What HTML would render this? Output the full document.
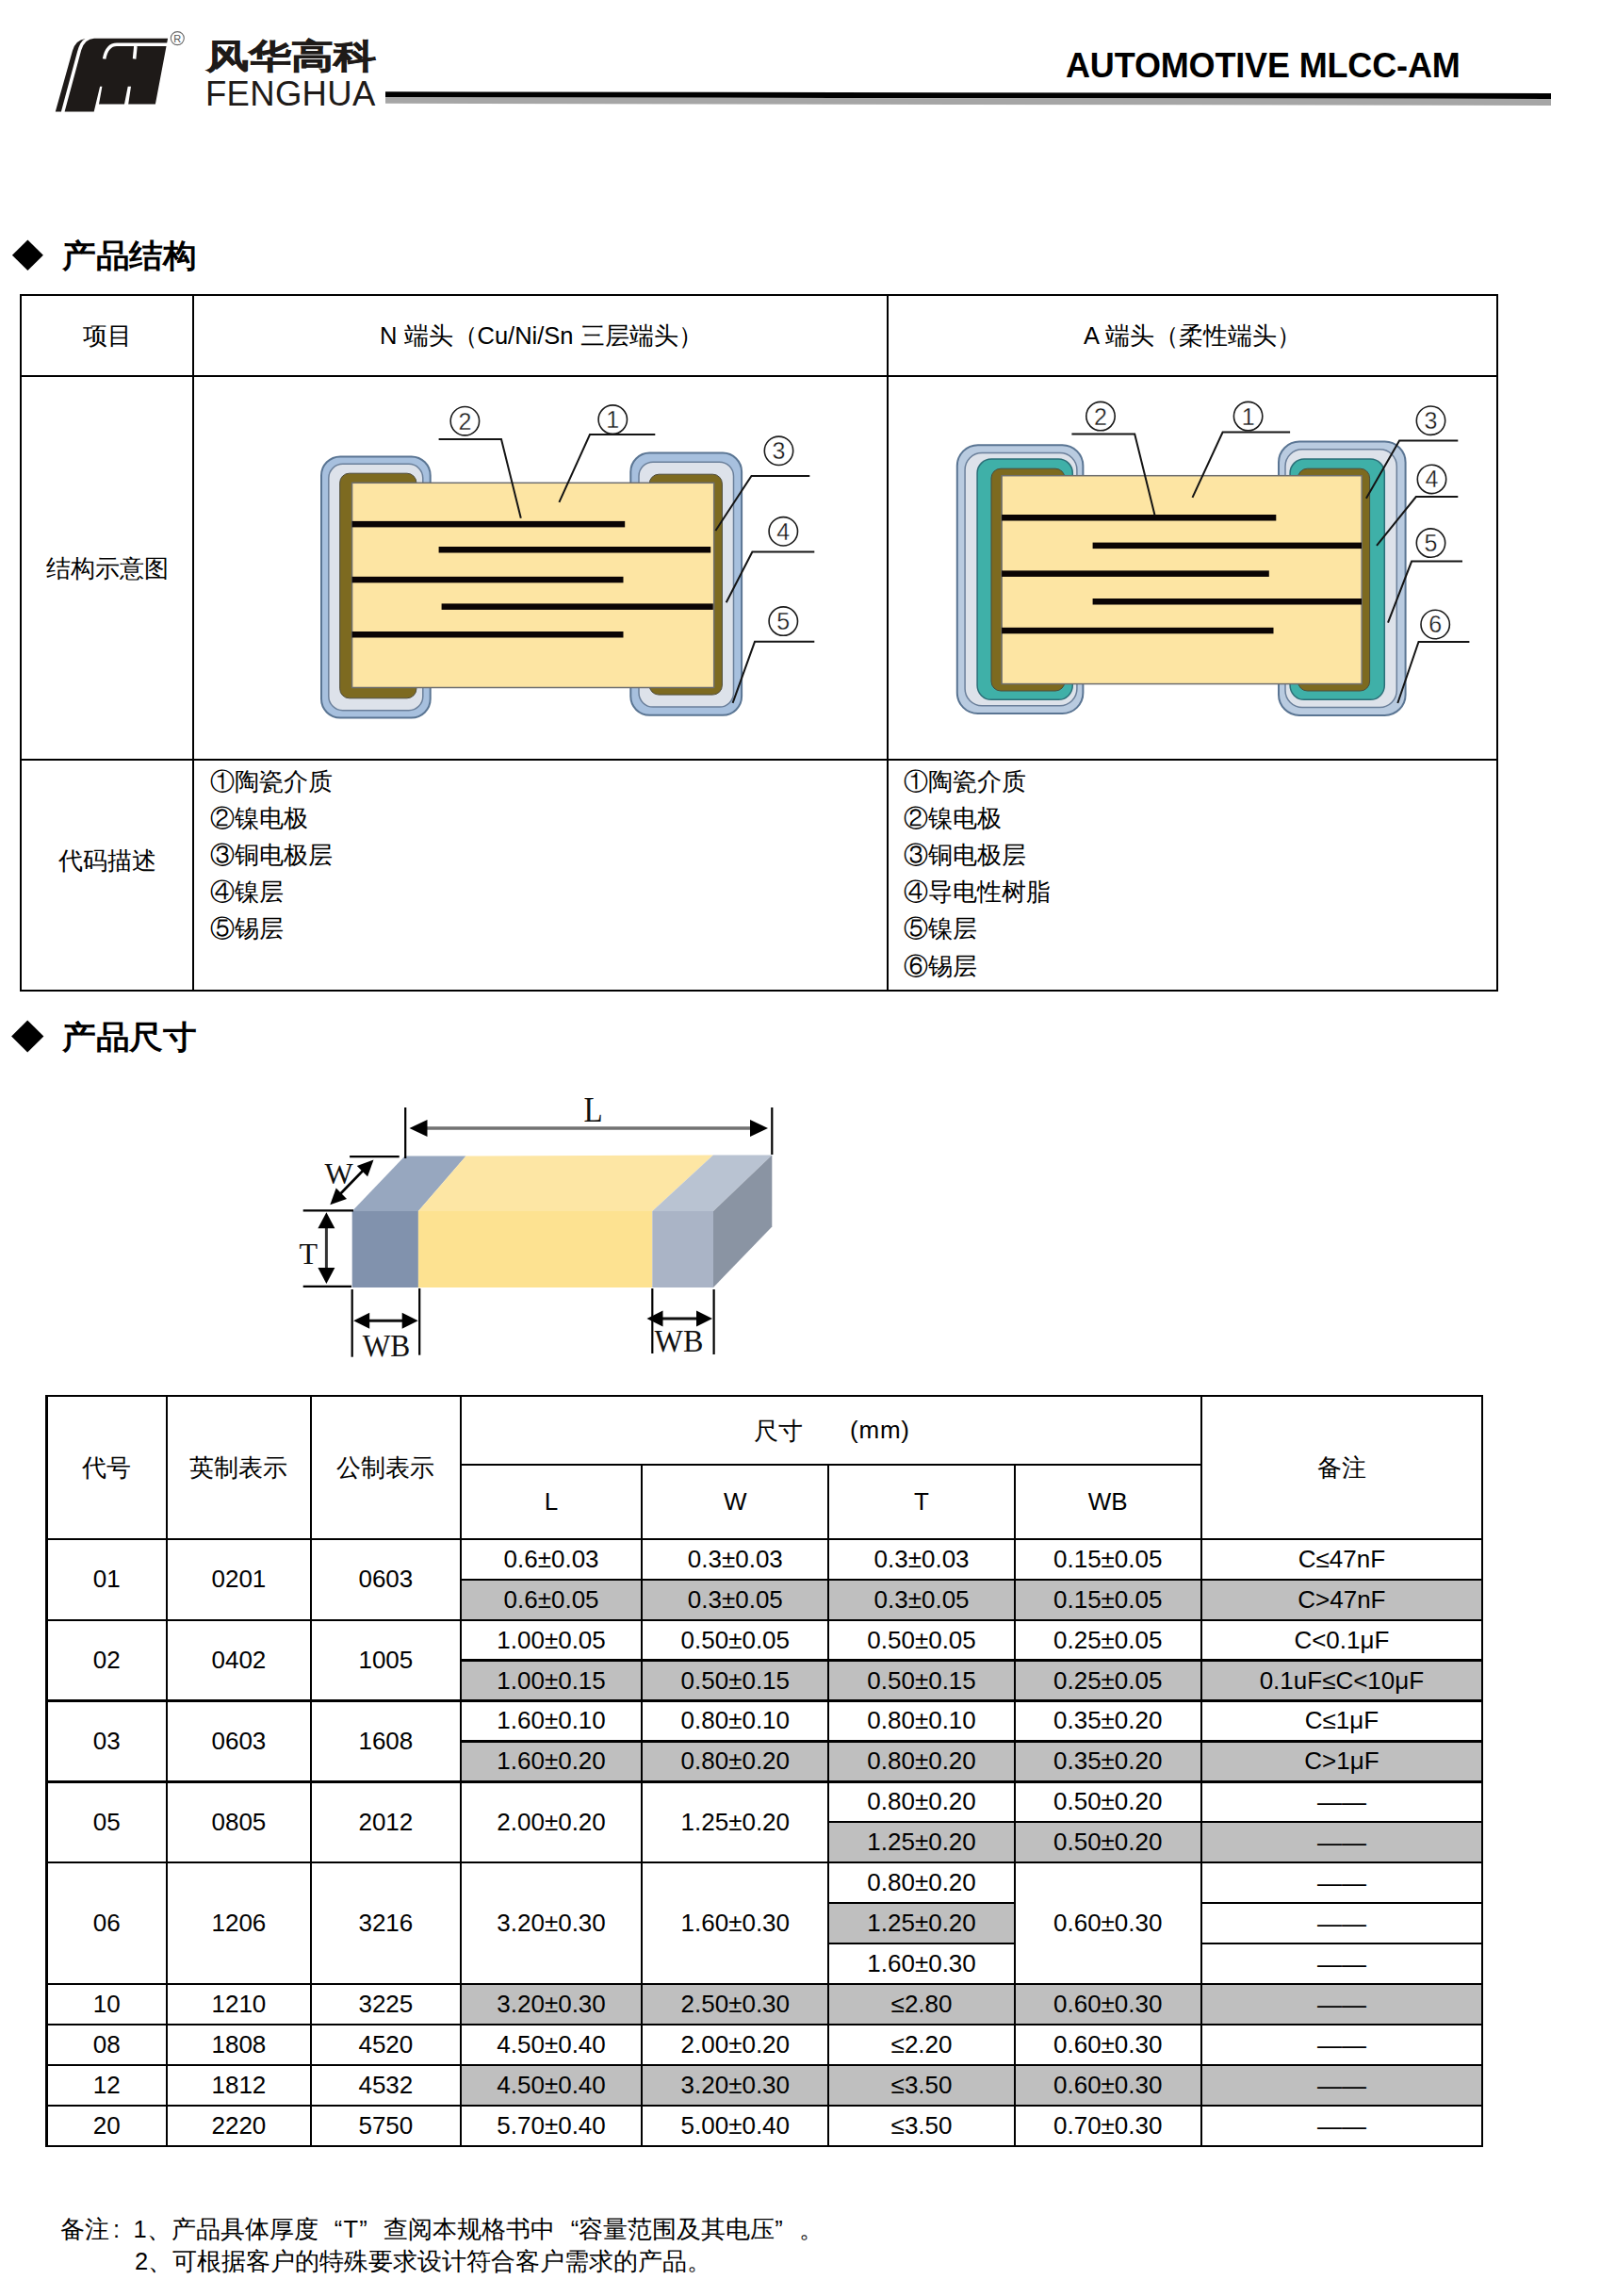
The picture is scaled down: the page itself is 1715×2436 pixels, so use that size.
<!DOCTYPE html><html><head><meta charset="utf-8"><style>
html,body{margin:0;padding:0;background:#fff;}
body{width:1715px;height:2436px;position:relative;overflow:hidden;font-family:"Liberation Sans", sans-serif;color:#000;}
.ln{position:absolute;}
.tx{position:absolute;white-space:nowrap;}
.cx{position:absolute;width:1000px;text-align:center;white-space:nowrap;}
svg{position:absolute;left:0;top:0;}
</style></head><body>
<svg width="1715" height="140"><polygon points="409,97.3 1646,99 1646,105 409,103.3" fill="#000"/><polygon points="409,103.3 1646,105 1646,112 409,109.8" fill="#a6a6a6"/><path d="M58.8,118.6 L64.9,118.6 L82,55 Q85,43.5 90.5,41 Q80,42.5 76.9,54.1 Z" fill="#1e1a18"/><path d="M68.6,118.6 L86.2,53.2 Q90,41 100,40.7 L178.1,40.7 L164.9,110.6 L136.2,110.6 L139,91.7 L135.7,91.7 L132,110.6 L105,110.6 L108.4,91.7 L106.1,91.7 L99.7,118.4 Z" fill="#1e1a18"/><path d="M110.6,62.5 Q113.5,47.3 124,47.3 L182,47.3" fill="none" stroke="#fff" stroke-width="3.6"/><path d="M143.9,49 L142.6,62.5" fill="none" stroke="#fff" stroke-width="3.6"/><circle cx="188.3" cy="40.6" r="7" fill="none" stroke="#6a6a6a" stroke-width="1.1"/><text x="188.3" y="45" font-size="11" text-anchor="middle" font-family="Liberation Sans, sans-serif" fill="#555">R</text></svg>
<div class="tx" style="left:1131px;top:52px;font-size:36px;line-height:36px;font-weight:bold;letter-spacing:-0.15px;">AUTOMOTIVE MLCC-AM</div>
<div class="tx" style="left:219px;top:41.6px;font-size:36px;line-height:36px;font-weight:bold;transform:scaleX(1.25);transform-origin:0 0;color:#1e1a18;-webkit-text-stroke:0.7px #1e1a18">风华高科</div>
<div class="tx" style="left:218px;top:81.6px;font-size:36.5px;line-height:36.5px;color:#1e1a18;letter-spacing:0.3px">FENGHUA</div>
<div class="ln" style="left:21.00px;top:312.00px;width:1569.00px;height:2.00px;background:#000"></div>
<div class="ln" style="left:21.00px;top:397.80px;width:1569.00px;height:2.00px;background:#000"></div>
<div class="ln" style="left:21.00px;top:805.20px;width:1569.00px;height:2.00px;background:#000"></div>
<div class="ln" style="left:21.00px;top:1049.50px;width:1569.00px;height:2.00px;background:#000"></div>
<div class="ln" style="left:21.00px;top:312.00px;width:2.00px;height:739.50px;background:#000"></div>
<div class="ln" style="left:204.40px;top:312.00px;width:2.00px;height:739.50px;background:#000"></div>
<div class="ln" style="left:940.80px;top:312.00px;width:2.00px;height:739.50px;background:#000"></div>
<div class="ln" style="left:1588.00px;top:312.00px;width:2.00px;height:739.50px;background:#000"></div>
<svg width="1715" height="1200"><polygon points="12.9,270.8 29.4,254.5 45.9,270.8 29.4,287.1" fill="#000"/><polygon points="12.1,1099.6 29.2,1082.6 46.4,1099.6 29.2,1116.6" fill="#000"/></svg>
<div class="tx" style="left:66.00px;top:253.70px;font-size:34px;line-height:34px;font-weight:bold;transform:scaleX(1.05);transform-origin:0 0;">产品结构</div>
<div class="tx" style="left:66.00px;top:1082.90px;font-size:34px;line-height:34px;font-weight:bold;transform:scaleX(1.05);transform-origin:0 0;">产品尺寸</div>
<div class="cx" style="left:-386.30px;top:343.75px;font-size:25.5px;line-height:25.5px;font-weight:normal;">项目</div>
<div class="tx" style="left:403.00px;top:343.50px;font-size:25.5px;line-height:25.5px;font-weight:normal;">N 端头（Cu/Ni/Sn 三层端头）</div>
<div class="tx" style="left:1150.00px;top:343.50px;font-size:25.5px;line-height:25.5px;font-weight:normal;">A 端头（柔性端头）</div>
<div class="cx" style="left:-386.30px;top:590.75px;font-size:25.5px;line-height:25.5px;font-weight:normal;">结构示意图</div>
<div class="cx" style="left:-386.30px;top:900.75px;font-size:25.5px;line-height:25.5px;font-weight:normal;">代码描述</div>
<div class="tx" style="left:223.00px;top:817.00px;font-size:25.5px;line-height:25.5px;font-weight:normal;">①陶瓷介质</div>
<div class="tx" style="left:223.00px;top:856.10px;font-size:25.5px;line-height:25.5px;font-weight:normal;">②镍电极</div>
<div class="tx" style="left:223.00px;top:895.20px;font-size:25.5px;line-height:25.5px;font-weight:normal;">③铜电极层</div>
<div class="tx" style="left:223.00px;top:934.30px;font-size:25.5px;line-height:25.5px;font-weight:normal;">④镍层</div>
<div class="tx" style="left:223.00px;top:973.40px;font-size:25.5px;line-height:25.5px;font-weight:normal;">⑤锡层</div>
<div class="tx" style="left:959.00px;top:817.00px;font-size:25.5px;line-height:25.5px;font-weight:normal;">①陶瓷介质</div>
<div class="tx" style="left:959.00px;top:856.10px;font-size:25.5px;line-height:25.5px;font-weight:normal;">②镍电极</div>
<div class="tx" style="left:959.00px;top:895.20px;font-size:25.5px;line-height:25.5px;font-weight:normal;">③铜电极层</div>
<div class="tx" style="left:959.00px;top:934.30px;font-size:25.5px;line-height:25.5px;font-weight:normal;">④导电性树脂</div>
<div class="tx" style="left:959.00px;top:973.40px;font-size:25.5px;line-height:25.5px;font-weight:normal;">⑤镍层</div>
<div class="tx" style="left:959.00px;top:1012.50px;font-size:25.5px;line-height:25.5px;font-weight:normal;">⑥锡层</div>
<div class="tx" style="left:64.00px;top:2353.00px;font-size:25.5px;line-height:25.5px;font-weight:normal;">备注<span style="display:inline-block;width:25.5px;text-indent:4px">:</span>1、产品具体厚度<span style="display:inline-block;width:25.5px;text-align:right">“</span><span style="display:inline-block;width:18px;text-align:center">T</span><span style="display:inline-block;width:25.5px;text-align:left">”</span>查阅本规格书中<span style="display:inline-block;width:25.5px;text-align:right">“</span>容量范围及其电压<span style="display:inline-block;width:25.5px;text-align:left">”</span>。</div>
<div class="tx" style="left:143.00px;top:2386.50px;font-size:25.5px;line-height:25.5px;font-weight:normal;">2、可根据客户的特殊要求设计符合客户需求的产品。</div>
<div class="ln" style="left:488.70px;top:1675.65px;width:1084.50px;height:42.95px;background:#bfbfbf"></div>
<div class="ln" style="left:488.70px;top:1761.56px;width:1084.50px;height:42.95px;background:#bfbfbf"></div>
<div class="ln" style="left:488.70px;top:1847.47px;width:1084.50px;height:42.95px;background:#bfbfbf"></div>
<div class="ln" style="left:879.20px;top:1933.37px;width:694.00px;height:42.95px;background:#bfbfbf"></div>
<div class="ln" style="left:879.20px;top:2019.28px;width:197.70px;height:42.95px;background:#bfbfbf"></div>
<div class="ln" style="left:488.70px;top:2105.19px;width:1084.50px;height:42.95px;background:#bfbfbf"></div>
<div class="ln" style="left:488.70px;top:2191.09px;width:1084.50px;height:42.95px;background:#bfbfbf"></div>
<div class="ln" style="left:48.40px;top:1479.80px;width:1526.00px;height:2.40px;background:#000"></div>
<div class="ln" style="left:48.40px;top:2275.80px;width:1526.00px;height:2.40px;background:#000"></div>
<div class="ln" style="left:48.40px;top:1479.80px;width:2.40px;height:798.40px;background:#000"></div>
<div class="ln" style="left:1572.00px;top:1479.80px;width:2.40px;height:798.40px;background:#000"></div>
<div class="ln" style="left:488.70px;top:1553.20px;width:785.90px;height:2.20px;background:#000"></div>
<div class="ln" style="left:49.60px;top:1631.60px;width:1523.60px;height:2.20px;background:#000"></div>
<div class="ln" style="left:175.70px;top:1481.00px;width:2.20px;height:796.00px;background:#000"></div>
<div class="ln" style="left:328.90px;top:1481.00px;width:2.20px;height:796.00px;background:#000"></div>
<div class="ln" style="left:487.60px;top:1481.00px;width:2.20px;height:796.00px;background:#000"></div>
<div class="ln" style="left:1273.50px;top:1481.00px;width:2.20px;height:796.00px;background:#000"></div>
<div class="ln" style="left:680.30px;top:1554.30px;width:2.20px;height:722.70px;background:#000"></div>
<div class="ln" style="left:878.10px;top:1554.30px;width:2.20px;height:722.70px;background:#000"></div>
<div class="ln" style="left:1075.80px;top:1554.30px;width:2.20px;height:722.70px;background:#000"></div>
<div class="ln" style="left:49.60px;top:1717.51px;width:1523.60px;height:2.20px;background:#000"></div>
<div class="ln" style="left:49.60px;top:1803.41px;width:1523.60px;height:2.20px;background:#000"></div>
<div class="ln" style="left:49.60px;top:1889.32px;width:1523.60px;height:2.20px;background:#000"></div>
<div class="ln" style="left:49.60px;top:1975.23px;width:1523.60px;height:2.20px;background:#000"></div>
<div class="ln" style="left:49.60px;top:2104.09px;width:1523.60px;height:2.20px;background:#000"></div>
<div class="ln" style="left:49.60px;top:2147.04px;width:1523.60px;height:2.20px;background:#000"></div>
<div class="ln" style="left:49.60px;top:2189.99px;width:1523.60px;height:2.20px;background:#000"></div>
<div class="ln" style="left:49.60px;top:2232.95px;width:1523.60px;height:2.20px;background:#000"></div>
<div class="ln" style="left:488.70px;top:1674.55px;width:1084.50px;height:2.20px;background:#000"></div>
<div class="ln" style="left:488.70px;top:1760.46px;width:1084.50px;height:2.20px;background:#000"></div>
<div class="ln" style="left:488.70px;top:1846.37px;width:1084.50px;height:2.20px;background:#000"></div>
<div class="ln" style="left:879.20px;top:1932.27px;width:694.00px;height:2.20px;background:#000"></div>
<div class="ln" style="left:879.20px;top:2018.18px;width:197.70px;height:2.20px;background:#000"></div>
<div class="ln" style="left:879.20px;top:2061.13px;width:197.70px;height:2.20px;background:#000"></div>
<div class="ln" style="left:1274.60px;top:2018.18px;width:298.60px;height:2.20px;background:#000"></div>
<div class="ln" style="left:1274.60px;top:2061.13px;width:298.60px;height:2.20px;background:#000"></div>
<div class="cx" style="left:-386.80px;top:1544.35px;font-size:26px;line-height:26px;font-weight:normal;">代号</div>
<div class="cx" style="left:-246.60px;top:1544.35px;font-size:26px;line-height:26px;font-weight:normal;">英制表示</div>
<div class="cx" style="left:-90.65px;top:1544.35px;font-size:26px;line-height:26px;font-weight:normal;">公制表示</div>
<div class="cx" style="left:923.90px;top:1544.35px;font-size:26px;line-height:26px;font-weight:normal;">备注</div>
<div class="tx" style="left:799.50px;top:1505.15px;font-size:26px;line-height:26px;font-weight:normal;">尺寸</div>
<div class="tx" style="left:902.00px;top:1504.15px;font-size:26px;line-height:26px;font-weight:normal;letter-spacing:0.8px">(mm)</div>
<div class="cx" style="left:85.05px;top:1580.00px;font-size:26px;line-height:26px;font-weight:normal;">L</div>
<div class="cx" style="left:280.30px;top:1580.00px;font-size:26px;line-height:26px;font-weight:normal;">W</div>
<div class="cx" style="left:478.05px;top:1580.00px;font-size:26px;line-height:26px;font-weight:normal;">T</div>
<div class="cx" style="left:675.75px;top:1580.00px;font-size:26px;line-height:26px;font-weight:normal;">WB</div>
<div class="cx" style="left:-386.80px;top:1662.15px;font-size:26px;line-height:26px;font-weight:normal;">01</div>
<div class="cx" style="left:-246.60px;top:1662.15px;font-size:26px;line-height:26px;font-weight:normal;">0201</div>
<div class="cx" style="left:-90.65px;top:1662.15px;font-size:26px;line-height:26px;font-weight:normal;">0603</div>
<div class="cx" style="left:85.05px;top:1640.68px;font-size:26px;line-height:26px;font-weight:normal;">0.6±0.03</div>
<div class="cx" style="left:280.30px;top:1640.68px;font-size:26px;line-height:26px;font-weight:normal;">0.3±0.03</div>
<div class="cx" style="left:478.05px;top:1640.68px;font-size:26px;line-height:26px;font-weight:normal;">0.3±0.03</div>
<div class="cx" style="left:675.75px;top:1640.68px;font-size:26px;line-height:26px;font-weight:normal;">0.15±0.05</div>
<div class="cx" style="left:923.90px;top:1640.68px;font-size:26px;line-height:26px;font-weight:normal;">C≤47nF</div>
<div class="cx" style="left:85.05px;top:1683.63px;font-size:26px;line-height:26px;font-weight:normal;">0.6±0.05</div>
<div class="cx" style="left:280.30px;top:1683.63px;font-size:26px;line-height:26px;font-weight:normal;">0.3±0.05</div>
<div class="cx" style="left:478.05px;top:1683.63px;font-size:26px;line-height:26px;font-weight:normal;">0.3±0.05</div>
<div class="cx" style="left:675.75px;top:1683.63px;font-size:26px;line-height:26px;font-weight:normal;">0.15±0.05</div>
<div class="cx" style="left:923.90px;top:1683.63px;font-size:26px;line-height:26px;font-weight:normal;">C&gt;47nF</div>
<div class="cx" style="left:-386.80px;top:1748.06px;font-size:26px;line-height:26px;font-weight:normal;">02</div>
<div class="cx" style="left:-246.60px;top:1748.06px;font-size:26px;line-height:26px;font-weight:normal;">0402</div>
<div class="cx" style="left:-90.65px;top:1748.06px;font-size:26px;line-height:26px;font-weight:normal;">1005</div>
<div class="cx" style="left:85.05px;top:1726.58px;font-size:26px;line-height:26px;font-weight:normal;">1.00±0.05</div>
<div class="cx" style="left:280.30px;top:1726.58px;font-size:26px;line-height:26px;font-weight:normal;">0.50±0.05</div>
<div class="cx" style="left:478.05px;top:1726.58px;font-size:26px;line-height:26px;font-weight:normal;">0.50±0.05</div>
<div class="cx" style="left:675.75px;top:1726.58px;font-size:26px;line-height:26px;font-weight:normal;">0.25±0.05</div>
<div class="cx" style="left:923.90px;top:1726.58px;font-size:26px;line-height:26px;font-weight:normal;">C&lt;0.1μF</div>
<div class="cx" style="left:85.05px;top:1769.54px;font-size:26px;line-height:26px;font-weight:normal;">1.00±0.15</div>
<div class="cx" style="left:280.30px;top:1769.54px;font-size:26px;line-height:26px;font-weight:normal;">0.50±0.15</div>
<div class="cx" style="left:478.05px;top:1769.54px;font-size:26px;line-height:26px;font-weight:normal;">0.50±0.15</div>
<div class="cx" style="left:675.75px;top:1769.54px;font-size:26px;line-height:26px;font-weight:normal;">0.25±0.05</div>
<div class="cx" style="left:923.90px;top:1769.54px;font-size:26px;line-height:26px;font-weight:normal;">0.1uF≤C&lt;10μF</div>
<div class="cx" style="left:-386.80px;top:1833.97px;font-size:26px;line-height:26px;font-weight:normal;">03</div>
<div class="cx" style="left:-246.60px;top:1833.97px;font-size:26px;line-height:26px;font-weight:normal;">0603</div>
<div class="cx" style="left:-90.65px;top:1833.97px;font-size:26px;line-height:26px;font-weight:normal;">1608</div>
<div class="cx" style="left:85.05px;top:1812.49px;font-size:26px;line-height:26px;font-weight:normal;">1.60±0.10</div>
<div class="cx" style="left:280.30px;top:1812.49px;font-size:26px;line-height:26px;font-weight:normal;">0.80±0.10</div>
<div class="cx" style="left:478.05px;top:1812.49px;font-size:26px;line-height:26px;font-weight:normal;">0.80±0.10</div>
<div class="cx" style="left:675.75px;top:1812.49px;font-size:26px;line-height:26px;font-weight:normal;">0.35±0.20</div>
<div class="cx" style="left:923.90px;top:1812.49px;font-size:26px;line-height:26px;font-weight:normal;">C≤1μF</div>
<div class="cx" style="left:85.05px;top:1855.44px;font-size:26px;line-height:26px;font-weight:normal;">1.60±0.20</div>
<div class="cx" style="left:280.30px;top:1855.44px;font-size:26px;line-height:26px;font-weight:normal;">0.80±0.20</div>
<div class="cx" style="left:478.05px;top:1855.44px;font-size:26px;line-height:26px;font-weight:normal;">0.80±0.20</div>
<div class="cx" style="left:675.75px;top:1855.44px;font-size:26px;line-height:26px;font-weight:normal;">0.35±0.20</div>
<div class="cx" style="left:923.90px;top:1855.44px;font-size:26px;line-height:26px;font-weight:normal;">C&gt;1μF</div>
<div class="cx" style="left:-386.80px;top:1919.87px;font-size:26px;line-height:26px;font-weight:normal;">05</div>
<div class="cx" style="left:-246.60px;top:1919.87px;font-size:26px;line-height:26px;font-weight:normal;">0805</div>
<div class="cx" style="left:-90.65px;top:1919.87px;font-size:26px;line-height:26px;font-weight:normal;">2012</div>
<div class="cx" style="left:85.05px;top:1919.87px;font-size:26px;line-height:26px;font-weight:normal;">2.00±0.20</div>
<div class="cx" style="left:280.30px;top:1919.87px;font-size:26px;line-height:26px;font-weight:normal;">1.25±0.20</div>
<div class="cx" style="left:478.05px;top:1898.40px;font-size:26px;line-height:26px;font-weight:normal;">0.80±0.20</div>
<div class="cx" style="left:675.75px;top:1898.40px;font-size:26px;line-height:26px;font-weight:normal;">0.50±0.20</div>
<div class="cx" style="left:923.90px;top:1898.90px;font-size:26px;line-height:26px;font-weight:normal;">——</div>
<div class="cx" style="left:478.05px;top:1941.35px;font-size:26px;line-height:26px;font-weight:normal;">1.25±0.20</div>
<div class="cx" style="left:675.75px;top:1941.35px;font-size:26px;line-height:26px;font-weight:normal;">0.50±0.20</div>
<div class="cx" style="left:923.90px;top:1941.85px;font-size:26px;line-height:26px;font-weight:normal;">——</div>
<div class="cx" style="left:-386.80px;top:2027.26px;font-size:26px;line-height:26px;font-weight:normal;">06</div>
<div class="cx" style="left:-246.60px;top:2027.26px;font-size:26px;line-height:26px;font-weight:normal;">1206</div>
<div class="cx" style="left:-90.65px;top:2027.26px;font-size:26px;line-height:26px;font-weight:normal;">3216</div>
<div class="cx" style="left:85.05px;top:2027.26px;font-size:26px;line-height:26px;font-weight:normal;">3.20±0.30</div>
<div class="cx" style="left:280.30px;top:2027.26px;font-size:26px;line-height:26px;font-weight:normal;">1.60±0.30</div>
<div class="cx" style="left:478.05px;top:1984.30px;font-size:26px;line-height:26px;font-weight:normal;">0.80±0.20</div>
<div class="cx" style="left:478.05px;top:2027.26px;font-size:26px;line-height:26px;font-weight:normal;">1.25±0.20</div>
<div class="cx" style="left:478.05px;top:2070.21px;font-size:26px;line-height:26px;font-weight:normal;">1.60±0.30</div>
<div class="cx" style="left:675.75px;top:2027.26px;font-size:26px;line-height:26px;font-weight:normal;">0.60±0.30</div>
<div class="cx" style="left:923.90px;top:1984.80px;font-size:26px;line-height:26px;font-weight:normal;">——</div>
<div class="cx" style="left:923.90px;top:2027.76px;font-size:26px;line-height:26px;font-weight:normal;">——</div>
<div class="cx" style="left:923.90px;top:2070.71px;font-size:26px;line-height:26px;font-weight:normal;">——</div>
<div class="cx" style="left:-386.80px;top:2113.16px;font-size:26px;line-height:26px;font-weight:normal;">10</div>
<div class="cx" style="left:-246.60px;top:2113.16px;font-size:26px;line-height:26px;font-weight:normal;">1210</div>
<div class="cx" style="left:-90.65px;top:2113.16px;font-size:26px;line-height:26px;font-weight:normal;">3225</div>
<div class="cx" style="left:85.05px;top:2113.16px;font-size:26px;line-height:26px;font-weight:normal;">3.20±0.30</div>
<div class="cx" style="left:280.30px;top:2113.16px;font-size:26px;line-height:26px;font-weight:normal;">2.50±0.30</div>
<div class="cx" style="left:478.05px;top:2113.16px;font-size:26px;line-height:26px;font-weight:normal;">≤2.80</div>
<div class="cx" style="left:675.75px;top:2113.16px;font-size:26px;line-height:26px;font-weight:normal;">0.60±0.30</div>
<div class="cx" style="left:923.90px;top:2113.66px;font-size:26px;line-height:26px;font-weight:normal;">——</div>
<div class="cx" style="left:-386.80px;top:2156.12px;font-size:26px;line-height:26px;font-weight:normal;">08</div>
<div class="cx" style="left:-246.60px;top:2156.12px;font-size:26px;line-height:26px;font-weight:normal;">1808</div>
<div class="cx" style="left:-90.65px;top:2156.12px;font-size:26px;line-height:26px;font-weight:normal;">4520</div>
<div class="cx" style="left:85.05px;top:2156.12px;font-size:26px;line-height:26px;font-weight:normal;">4.50±0.40</div>
<div class="cx" style="left:280.30px;top:2156.12px;font-size:26px;line-height:26px;font-weight:normal;">2.00±0.20</div>
<div class="cx" style="left:478.05px;top:2156.12px;font-size:26px;line-height:26px;font-weight:normal;">≤2.20</div>
<div class="cx" style="left:675.75px;top:2156.12px;font-size:26px;line-height:26px;font-weight:normal;">0.60±0.30</div>
<div class="cx" style="left:923.90px;top:2156.62px;font-size:26px;line-height:26px;font-weight:normal;">——</div>
<div class="cx" style="left:-386.80px;top:2199.07px;font-size:26px;line-height:26px;font-weight:normal;">12</div>
<div class="cx" style="left:-246.60px;top:2199.07px;font-size:26px;line-height:26px;font-weight:normal;">1812</div>
<div class="cx" style="left:-90.65px;top:2199.07px;font-size:26px;line-height:26px;font-weight:normal;">4532</div>
<div class="cx" style="left:85.05px;top:2199.07px;font-size:26px;line-height:26px;font-weight:normal;">4.50±0.40</div>
<div class="cx" style="left:280.30px;top:2199.07px;font-size:26px;line-height:26px;font-weight:normal;">3.20±0.30</div>
<div class="cx" style="left:478.05px;top:2199.07px;font-size:26px;line-height:26px;font-weight:normal;">≤3.50</div>
<div class="cx" style="left:675.75px;top:2199.07px;font-size:26px;line-height:26px;font-weight:normal;">0.60±0.30</div>
<div class="cx" style="left:923.90px;top:2199.57px;font-size:26px;line-height:26px;font-weight:normal;">——</div>
<div class="cx" style="left:-386.80px;top:2242.02px;font-size:26px;line-height:26px;font-weight:normal;">20</div>
<div class="cx" style="left:-246.60px;top:2242.02px;font-size:26px;line-height:26px;font-weight:normal;">2220</div>
<div class="cx" style="left:-90.65px;top:2242.02px;font-size:26px;line-height:26px;font-weight:normal;">5750</div>
<div class="cx" style="left:85.05px;top:2242.02px;font-size:26px;line-height:26px;font-weight:normal;">5.70±0.40</div>
<div class="cx" style="left:280.30px;top:2242.02px;font-size:26px;line-height:26px;font-weight:normal;">5.00±0.40</div>
<div class="cx" style="left:478.05px;top:2242.02px;font-size:26px;line-height:26px;font-weight:normal;">≤3.50</div>
<div class="cx" style="left:675.75px;top:2242.02px;font-size:26px;line-height:26px;font-weight:normal;">0.70±0.30</div>
<div class="cx" style="left:923.90px;top:2242.52px;font-size:26px;line-height:26px;font-weight:normal;">——</div>
<svg width="1715" height="2436"><rect x="341.0" y="484.4" width="115.7" height="277.2" rx="20" ry="20" fill="#a7c0de" stroke="#5a7593" stroke-width="2"/><rect x="348.8" y="492.3" width="100.0" height="261.4" rx="15" ry="15" fill="#dde2ea" stroke="#6a7f9a" stroke-width="1.5"/><rect x="669.3" y="480.6" width="117.8" height="278.2" rx="20" ry="20" fill="#a7c0de" stroke="#5a7593" stroke-width="2"/><rect x="678.0" y="490.2" width="100.5" height="259.9" rx="15" ry="15" fill="#dde2ea" stroke="#6a7f9a" stroke-width="1.5"/><rect x="360.7" y="502.2" width="81.2" height="238.6" rx="10" ry="10" fill="#7d6a20" stroke="#4d4a3a" stroke-width="1"/><rect x="689.2" y="503.2" width="77.2" height="233.9" rx="10" ry="10" fill="#7d6a20" stroke="#4d4a3a" stroke-width="1"/><rect x="373.6" y="512.3" width="384.1" height="217.2" fill="#fde5a3" stroke="#6f6f6f" stroke-width="1.5"/><rect x="373.6" y="552.9" width="289.6" height="6.5" fill="#0a0404"/><rect x="465.6" y="580.0" width="288.6" height="6.5" fill="#0a0404"/><rect x="373.6" y="611.8" width="287.9" height="6.5" fill="#0a0404"/><rect x="468.6" y="640.4" width="288.2" height="6.5" fill="#0a0404"/><rect x="373.6" y="670.0" width="287.9" height="6.5" fill="#0a0404"/><polyline points="465.6,466.0 532.0,466.0 552.8,549.7" fill="none" stroke="#141414" stroke-width="2"/><polyline points="593.4,532.9 626.0,461.1 695.3,461.1" fill="none" stroke="#141414" stroke-width="2"/><polyline points="759.4,563.0 797.5,504.9 859.3,504.9" fill="none" stroke="#141414" stroke-width="2"/><polyline points="770.7,639.2 798.4,585.5 864.3,585.5" fill="none" stroke="#141414" stroke-width="2"/><polyline points="777.6,745.8 801.0,680.8 864.3,680.8" fill="none" stroke="#141414" stroke-width="2"/><circle cx="493.4" cy="446.7" r="15.2" fill="none" stroke="#1a1a1a" stroke-width="1.6"/><text x="493.4" y="455.6" font-size="25" text-anchor="middle" font-family="Liberation Sans, sans-serif" fill="#1a1a1a" stroke="#fff" stroke-width="0.3">2</text><circle cx="650.3" cy="445.1" r="15.2" fill="none" stroke="#1a1a1a" stroke-width="1.6"/><text x="650.3" y="454.0" font-size="25" text-anchor="middle" font-family="Liberation Sans, sans-serif" fill="#1a1a1a" stroke="#fff" stroke-width="0.3">1</text><circle cx="826.5" cy="478.3" r="15.2" fill="none" stroke="#1a1a1a" stroke-width="1.6"/><text x="826.5" y="487.2" font-size="25" text-anchor="middle" font-family="Liberation Sans, sans-serif" fill="#1a1a1a" stroke="#fff" stroke-width="0.3">3</text><circle cx="831.3" cy="563.8" r="15.2" fill="none" stroke="#1a1a1a" stroke-width="1.6"/><text x="831.3" y="572.7" font-size="25" text-anchor="middle" font-family="Liberation Sans, sans-serif" fill="#1a1a1a" stroke="#fff" stroke-width="0.3">4</text><circle cx="831.3" cy="659.1" r="15.2" fill="none" stroke="#1a1a1a" stroke-width="1.6"/><text x="831.3" y="668.0" font-size="25" text-anchor="middle" font-family="Liberation Sans, sans-serif" fill="#1a1a1a" stroke="#fff" stroke-width="0.3">5</text><rect x="1015.8" y="472.2" width="133.6" height="284.9" rx="22" ry="22" fill="#b9cbe0" stroke="#5a7593" stroke-width="2"/><rect x="1024.1" y="480.5" width="118.8" height="268.3" rx="18" ry="18" fill="#dde2ea" stroke="#6a7f9a" stroke-width="1.5"/><rect x="1037.1" y="487.0" width="101.2" height="255.3" rx="15" ry="15" fill="#3fb0a8" stroke="#2b6f78" stroke-width="1.5"/><rect x="1052.0" y="497.2" width="78.0" height="235.8" rx="10" ry="10" fill="#7d6a20" stroke="#4d4a3a" stroke-width="1"/><rect x="1357.0" y="468.5" width="134.6" height="290.5" rx="22" ry="22" fill="#b9cbe0" stroke="#5a7593" stroke-width="2"/><rect x="1364.0" y="476.8" width="118.3" height="273.7" rx="18" ry="18" fill="#dde2ea" stroke="#6a7f9a" stroke-width="1.5"/><rect x="1369.1" y="487.0" width="100.2" height="255.3" rx="15" ry="15" fill="#3fb0a8" stroke="#2b6f78" stroke-width="1.5"/><rect x="1377.5" y="497.2" width="76.1" height="235.8" rx="10" ry="10" fill="#7d6a20" stroke="#4d4a3a" stroke-width="1"/><rect x="1063.1" y="504.7" width="382.1" height="220.9" fill="#fde5a3" stroke="#6f6f6f" stroke-width="1.5"/><rect x="1063.1" y="546.0" width="291.2" height="6.5" fill="#0a0404"/><rect x="1159.6" y="575.6" width="285.4" height="6.5" fill="#0a0404"/><rect x="1063.1" y="605.4" width="283.7" height="6.5" fill="#0a0404"/><rect x="1159.6" y="635.0" width="285.4" height="6.5" fill="#0a0404"/><rect x="1063.1" y="665.8" width="288.4" height="6.5" fill="#0a0404"/><polyline points="1137.4,460.5 1204.2,460.5 1225.5,546.4" fill="none" stroke="#141414" stroke-width="2"/><polyline points="1265.5,527.9 1297.6,458.6 1369.1,458.6" fill="none" stroke="#141414" stroke-width="2"/><polyline points="1449.9,528.8 1485.1,467.5 1547.3,467.5" fill="none" stroke="#141414" stroke-width="2"/><polyline points="1461.0,578.9 1502.8,527.0 1547.3,527.0" fill="none" stroke="#141414" stroke-width="2"/><polyline points="1473.0,660.6 1498.1,595.6 1552.0,595.6" fill="none" stroke="#141414" stroke-width="2"/><polyline points="1483.3,746.0 1505.5,681.0 1559.4,681.0" fill="none" stroke="#141414" stroke-width="2"/><circle cx="1168" cy="441.6" r="15.2" fill="none" stroke="#1a1a1a" stroke-width="1.6"/><text x="1168" y="450.5" font-size="25" text-anchor="middle" font-family="Liberation Sans, sans-serif" fill="#1a1a1a" stroke="#fff" stroke-width="0.3">2</text><circle cx="1324.6" cy="441.6" r="15.2" fill="none" stroke="#1a1a1a" stroke-width="1.6"/><text x="1324.6" y="450.5" font-size="25" text-anchor="middle" font-family="Liberation Sans, sans-serif" fill="#1a1a1a" stroke="#fff" stroke-width="0.3">1</text><circle cx="1518.5" cy="446.2" r="15.2" fill="none" stroke="#1a1a1a" stroke-width="1.6"/><text x="1518.5" y="455.1" font-size="25" text-anchor="middle" font-family="Liberation Sans, sans-serif" fill="#1a1a1a" stroke="#fff" stroke-width="0.3">3</text><circle cx="1519.5" cy="508.4" r="15.2" fill="none" stroke="#1a1a1a" stroke-width="1.6"/><text x="1519.5" y="517.3" font-size="25" text-anchor="middle" font-family="Liberation Sans, sans-serif" fill="#1a1a1a" stroke="#fff" stroke-width="0.3">4</text><circle cx="1518.5" cy="576.1" r="15.2" fill="none" stroke="#1a1a1a" stroke-width="1.6"/><text x="1518.5" y="585.0" font-size="25" text-anchor="middle" font-family="Liberation Sans, sans-serif" fill="#1a1a1a" stroke="#fff" stroke-width="0.3">5</text><circle cx="1523.2" cy="662.5" r="15.2" fill="none" stroke="#1a1a1a" stroke-width="1.6"/><text x="1523.2" y="671.4" font-size="25" text-anchor="middle" font-family="Liberation Sans, sans-serif" fill="#1a1a1a" stroke="#fff" stroke-width="0.3">6</text></svg>
<svg width="1715" height="2436"><polygon points="373.7,1285 429.7,1226.5 494.5,1226.5 443.9,1285" fill="#97a7bf"/><polygon points="443.9,1285 494.5,1226.5 756.9,1225.5 692.3,1285" fill="#fde6a4"/><polygon points="692.3,1285 756.9,1225.5 819.3,1225.5 757.0,1285" fill="#b9c3d2"/><polygon points="757.0,1285 819.3,1225.5 819.3,1301.4 757.0,1366" fill="#8a94a3"/><rect x="373.7" y="1285" width="70.2" height="81" fill="#8192ad"/><rect x="443.9" y="1285" width="248.4" height="81" fill="#fde291"/><rect x="692.3" y="1285" width="64.7" height="81" fill="#aab4c6"/><line x1="430.2" y1="1175" x2="430.2" y2="1229" stroke="#000" stroke-width="2.2"/><line x1="819.3" y1="1175" x2="819.3" y2="1225" stroke="#000" stroke-width="2.2"/><line x1="445" y1="1197" x2="805" y2="1197" stroke="#727272" stroke-width="3.6"/><polygon points="434.5,1197.0 453.5,1188.0 453.5,1206.0" fill="#000"/><polygon points="815.0,1197.0 796.0,1206.0 796.0,1188.0" fill="#000"/><text x="629.7" y="1190" font-size="33" text-anchor="middle" font-family="Liberation Serif, serif" transform="translate(0,-178) scale(1,1.15)" fill="#111">L</text><line x1="371.1" y1="1227.2" x2="423.7" y2="1227.2" stroke="#000" stroke-width="2.2"/><line x1="388" y1="1239" x2="358" y2="1270" stroke="#000" stroke-width="2.6"/><polygon points="396.5,1230.5 390.1,1248.2 378.8,1236.9" fill="#000"/><polygon points="350.3,1278.3 356.7,1260.6 368.0,1271.9" fill="#000"/><text x="359.7" y="1256.4" font-size="32" text-anchor="middle" font-family="Liberation Serif, serif" fill="#111">W</text><line x1="321.7" y1="1284.4" x2="375" y2="1284.4" stroke="#000" stroke-width="2.2"/><line x1="321.7" y1="1364.9" x2="373" y2="1364.9" stroke="#000" stroke-width="2.2"/><line x1="346.4" y1="1300" x2="346.4" y2="1348" stroke="#333" stroke-width="3"/><polygon points="346.4,1286.3 355.4,1303.3 337.4,1303.3" fill="#000"/><polygon points="346.4,1362.0 337.4,1345.0 355.4,1345.0" fill="#000"/><text x="327.2" y="1340.9" font-size="32" text-anchor="middle" font-family="Liberation Serif, serif" fill="#111">T</text><line x1="373.7" y1="1368" x2="373.7" y2="1439.7" stroke="#000" stroke-width="2.2"/><line x1="445.2" y1="1366.9" x2="445.2" y2="1437.7" stroke="#000" stroke-width="2.2"/><line x1="388" y1="1401.3" x2="430" y2="1401.3" stroke="#111" stroke-width="3"/><polygon points="375.2,1401.3 392.2,1392.8 392.2,1409.8" fill="#000"/><polygon points="443.7,1401.3 426.7,1409.8 426.7,1392.8" fill="#000"/><text x="410" y="1439" font-size="34" text-anchor="middle" font-family="Liberation Serif, serif" textLength="50.7" lengthAdjust="spacingAndGlyphs" fill="#111">WB</text><line x1="692.3" y1="1367" x2="692.3" y2="1436" stroke="#000" stroke-width="2.2"/><line x1="757.6" y1="1368" x2="757.6" y2="1437" stroke="#000" stroke-width="2.2"/><line x1="702" y1="1399" x2="744" y2="1399" stroke="#111" stroke-width="3"/><polygon points="686.5,1399.0 703.5,1390.5 703.5,1407.5" fill="#000"/><polygon points="756.0,1399.0 739.0,1407.5 739.0,1390.5" fill="#000"/><text x="720.5" y="1434" font-size="34" text-anchor="middle" font-family="Liberation Serif, serif" textLength="51.8" lengthAdjust="spacingAndGlyphs" fill="#111">WB</text></svg>
</body></html>
